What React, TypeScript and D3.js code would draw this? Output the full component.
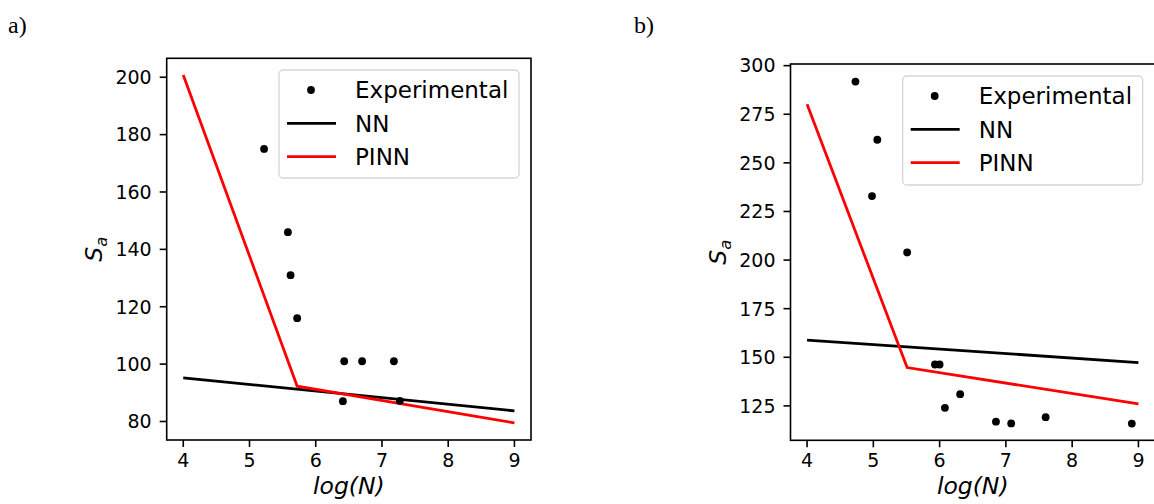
import React from "react";
import * as d3 from "d3";

// ---------- data ----------
const xTicks = [4, 5, 6, 7, 8, 9];

// Panel a)
const aYTicks = [80, 100, 120, 140, 160, 180, 200];
const aExpX = [5.22, 5.58, 5.62, 5.72, 6.43, 6.70, 7.18, 6.41, 7.27];
const aExpY = [175, 146, 131, 116, 101, 101, 101, 87.1, 87.2];
const aNNX = [4, 9];
const aNNY = [95.2, 83.7];
const aPINNX = [4, 5.72, 9];
const aPINNY = [200.8, 92.3, 79.5];

// Panel b)
const bYTicks = [125, 150, 175, 200, 225, 250, 275, 300];
const bExpX = [4.73, 5.06, 4.98, 5.51, 5.93, 6.0, 6.08, 6.31, 6.85, 7.08, 7.60, 8.90];
const bExpY = [291.8, 261.9, 232.9, 203.9, 146.3, 146.3, 124, 131, 116.9, 116.0, 119.2, 115.9];
const bNNX = [4, 9];
const bNNY = [158.8, 147.3];
const bPINNX = [4, 5.51, 9];
const bPINNY = [280.1, 144.7, 126.0];

const legendLabels = ["Experimental", "NN", "PINN"];
const panelLabels = ["a)", "b)"];

const FONT = "'DejaVu Sans', sans-serif";

type PanelProps = {
  left: number; right: number; top: number; bottom: number;
  yDomain: [number, number];
  yTicks: number[];
  expX: number[]; expY: number[];
  nnX: number[]; nnY: number[];
  pinnX: number[]; pinnY: number[];
  legend: { x: number; y: number; w: number; h: number };
  ylabX: number;
  clipId: string;
};

function Panel(p: PanelProps) {
  const x = d3.scaleLinear().domain([3.75, 9.25]).range([p.left, p.right]);
  const y = d3.scaleLinear().domain(p.yDomain).range([p.bottom, p.top]);
  const line = d3.line<[number, number]>().x(d => x(d[0])).y(d => y(d[1]));
  const nn = p.nnX.map((v, i) => [v, p.nnY[i]] as [number, number]);
  const pinn = p.pinnX.map((v, i) => [v, p.pinnY[i]] as [number, number]);
  const L = p.legend;
  const rowH = 33.3;
  const midY = (p.top + p.bottom) / 2;
  return (
    <g>
      <defs>
        <clipPath id={p.clipId}>
          <rect x={p.left} y={p.top} width={p.right - p.left} height={p.bottom - p.top} />
        </clipPath>
      </defs>
      <g clipPath={`url(#${p.clipId})`}>
        <path d={line(nn) || ""} fill="none" stroke="#000" strokeWidth={2.8} />
        <path d={line(pinn) || ""} fill="none" stroke="#ff0000" strokeWidth={2.8} />
        {p.expX.map((v, i) => (
          <circle key={i} cx={x(v)} cy={y(p.expY[i])} r={3.9} fill="#000" />
        ))}
      </g>
      {/* spines */}
      <rect x={p.left} y={p.top} width={p.right - p.left} height={p.bottom - p.top}
        fill="none" stroke="#000" strokeWidth={1.6} />
      {/* x ticks */}
      {xTicks.map(t => (
        <g key={t}>
          <line x1={x(t)} x2={x(t)} y1={p.bottom} y2={p.bottom + 7} stroke="#000" strokeWidth={1.6} />
          <text x={x(t)} y={p.bottom + 27} textAnchor="middle" fontFamily={FONT} fontSize={19} fill="#000">{t}</text>
        </g>
      ))}
      {/* y ticks */}
      {p.yTicks.map(t => (
        <g key={t}>
          <line x1={p.left - 7} x2={p.left} y1={y(t)} y2={y(t)} stroke="#000" strokeWidth={1.6} />
          <text x={p.left - 15} y={y(t)} dy="0.36em" textAnchor="end" fontFamily={FONT} fontSize={19} fill="#000">{t}</text>
        </g>
      ))}
      {/* axis labels */}
      <text x={(p.left + p.right) / 2} y={494} textAnchor="middle" fontFamily={FONT} fontStyle="italic" fontSize={23.5} fill="#000">
        log(N)
      </text>
      <text transform={`translate(${p.ylabX},${midY}) rotate(-90)`} textAnchor="middle" fontFamily={FONT} fontStyle="italic" fontSize={23.5} fill="#000">
        S<tspan fontSize={16.5} dy={5}>a</tspan>
      </text>
      {/* legend */}
      <rect x={L.x} y={L.y} width={L.w} height={L.h} rx={4} ry={4} fill="#fff" fillOpacity={0.8} stroke="#d6d6d6" strokeWidth={1.3} />
      <circle cx={L.x + 32} cy={L.y + 20} r={3.9} fill="#000" />
      <line x1={L.x + 8} x2={L.x + 57} y1={L.y + 20 + rowH} y2={L.y + 20 + rowH} stroke="#000" strokeWidth={2.8} />
      <line x1={L.x + 8} x2={L.x + 57} y1={L.y + 20 + 2 * rowH} y2={L.y + 20 + 2 * rowH} stroke="#ff0000" strokeWidth={2.8} />
      {legendLabels.map((s, i) => (
        <text key={s} x={L.x + 76} y={L.y + 20 + i * rowH} dy="0.36em" fontFamily={FONT} fontSize={23} fill="#000">{s}</text>
      ))}
    </g>
  );
}

export default function App() {
  return (
    <svg width={1154} height={504} style={{ position: "absolute", left: 0, top: 0, background: "#fff" }}>
      <rect x={0} y={0} width={1154} height={504} fill="#fff" />
      <text x={8} y={33} fontFamily="'Liberation Serif', 'Times New Roman', serif" fontSize={24} fill="#000">{panelLabels[0]}</text>
      <text x={634} y={33} fontFamily="'Liberation Serif', 'Times New Roman', serif" fontSize={24} fill="#000">{panelLabels[1]}</text>
      <Panel
        left={166.7} right={531} top={58.3} bottom={440}
        yDomain={[73.55, 206.6]} yTicks={aYTicks}
        expX={aExpX} expY={aExpY}
        nnX={aNNX} nnY={aNNY} pinnX={aPINNX} pinnY={aPINNY}
        legend={{ x: 279, y: 70, w: 240, h: 108 }}
        ylabX={102}
        clipId="clipA"
      />
      <Panel
        left={790.5} right={1155} top={64} bottom={440.3}
        yDomain={[107.3, 300.85]} yTicks={bYTicks}
        expX={bExpX} expY={bExpY}
        nnX={bNNX} nnY={bNNY} pinnX={bPINNX} pinnY={bPINNY}
        legend={{ x: 902.7, y: 76, w: 240, h: 109 }}
        ylabX={726}
        clipId="clipB"
      />
    </svg>
  );
}
